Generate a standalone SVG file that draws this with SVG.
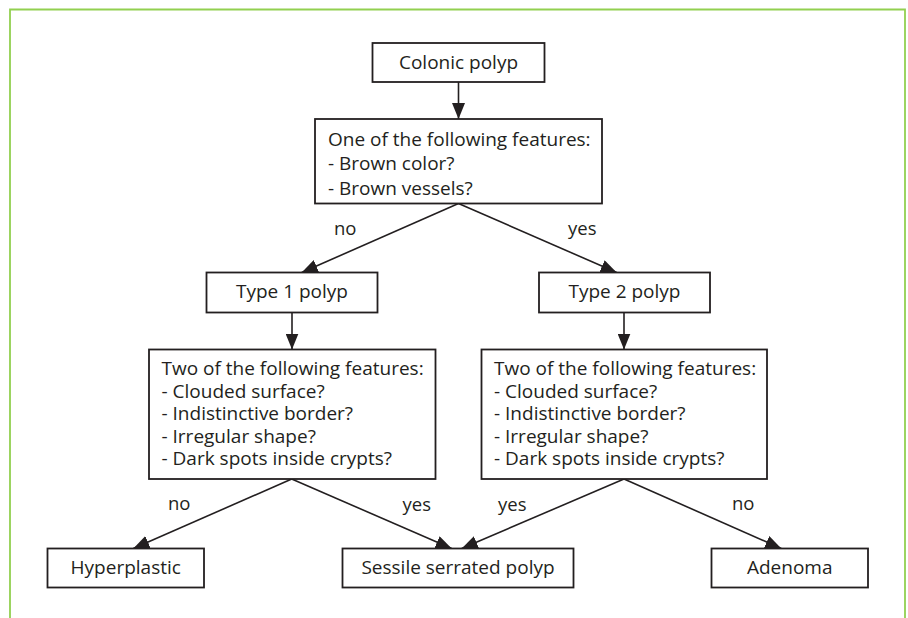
<svg xmlns="http://www.w3.org/2000/svg" width="908" height="618" viewBox="0 0 908 618">
  <defs>
    <marker id="arrow" markerUnits="userSpaceOnUse" markerWidth="16" markerHeight="13" refX="16" refY="6.5" orient="auto">
      <path d="M0,0 L16,6.5 L0,13 z" fill="#231f20"/>
    </marker>
    <style>
      .frame { fill: none; stroke: #92d050; stroke-width: 1.8; }
      .box { fill: #ffffff; stroke: #231f20; stroke-width: 1.8; }
      .t { font-family: "Open Sans", "Noto Sans", "DejaVu Sans", sans-serif; font-size: 19px; fill: #231f20; }
      .c { text-anchor: middle; }
      .lbl { font-family: "Open Sans", "Noto Sans", "DejaVu Sans", sans-serif; font-size: 18.5px; fill: #231f20; }
      .conn { fill: none; stroke: #231f20; stroke-width: 1.6; marker-end: url(#arrow); }
    </style>
  </defs>
  <rect width="908" height="618" fill="#ffffff"/>
  <path class="frame" d="M10,620 L10,9.5 L905,9.5 L905,620"/>

  <g id="connectors">
    <line class="conn" x1="458.5" y1="82" x2="458.5" y2="119"/>
    <line class="conn" x1="458.5" y1="203.5" x2="301.7" y2="272.5"/>
    <line class="conn" x1="458.5" y1="203.5" x2="616.7" y2="272.5"/>
    <line class="conn" x1="292" y1="312.5" x2="292" y2="349.5"/>
    <line class="conn" x1="624" y1="312.5" x2="624" y2="349.5"/>
    <line class="conn" x1="291.7" y1="479" x2="133.3" y2="548.5"/>
    <line class="conn" x1="291.7" y1="479" x2="451.7" y2="548.5"/>
    <line class="conn" x1="624" y1="479" x2="461.7" y2="548.5"/>
    <line class="conn" x1="624" y1="479" x2="781.3" y2="548.5"/>
    <text class="lbl" x="334" y="235">no</text>
    <text class="lbl" x="568" y="235">yes</text>
    <text class="lbl" x="168" y="510">no</text>
    <text class="lbl" x="402.5" y="511">yes</text>
    <text class="lbl" x="498" y="511">yes</text>
    <text class="lbl" x="732" y="510">no</text>
  </g>

  <g id="colonic-polyp">
    <rect class="box" x="372.5" y="43" width="172" height="39"/>
    <text class="t c" x="458.5" y="68.5">Colonic polyp</text>
  </g>

  <g id="decision-1">
    <rect class="box" x="315" y="119" width="287" height="84.5"/>
    <text class="t" x="328" y="145.5">One of the following features:</text>
    <text class="t" x="328" y="170">- Brown color?</text>
    <text class="t" x="328" y="195">- Brown vessels?</text>
  </g>

  <g id="type-1-polyp">
    <rect class="box" x="206.5" y="272.5" width="171" height="40"/>
    <text class="t c" x="292" y="298">Type 1 polyp</text>
  </g>

  <g id="type-2-polyp">
    <rect class="box" x="539" y="272.5" width="171" height="40"/>
    <text class="t c" x="624.5" y="298">Type 2 polyp</text>
  </g>

  <g id="decision-2-left">
    <rect class="box" x="149" y="349.5" width="286.5" height="129.5"/>
    <text class="t" x="161.5" y="375">Two of the following features:</text>
    <text class="t" x="161.5" y="397.5">- Clouded surface?</text>
    <text class="t" x="161.5" y="420">- Indistinctive border?</text>
    <text class="t" x="161.5" y="442.5">- Irregular shape?</text>
    <text class="t" x="161.5" y="465">- Dark spots inside crypts?</text>
  </g>

  <g id="decision-2-right">
    <rect class="box" x="481.5" y="349.5" width="285.5" height="129.5"/>
    <text class="t" x="494" y="375">Two of the following features:</text>
    <text class="t" x="494" y="397.5">- Clouded surface?</text>
    <text class="t" x="494" y="420">- Indistinctive border?</text>
    <text class="t" x="494" y="442.5">- Irregular shape?</text>
    <text class="t" x="494" y="465">- Dark spots inside crypts?</text>
  </g>

  <g id="hyperplastic">
    <rect class="box" x="47.5" y="548.5" width="156.5" height="39"/>
    <text class="t c" x="125.75" y="574">Hyperplastic</text>
  </g>

  <g id="sessile-serrated-polyp">
    <rect class="box" x="342.5" y="548.5" width="231" height="39"/>
    <text class="t c" x="458" y="574">Sessile serrated polyp</text>
  </g>

  <g id="adenoma">
    <rect class="box" x="711.5" y="548.5" width="156.5" height="39"/>
    <text class="t c" x="789.75" y="574">Adenoma</text>
  </g>
</svg>
